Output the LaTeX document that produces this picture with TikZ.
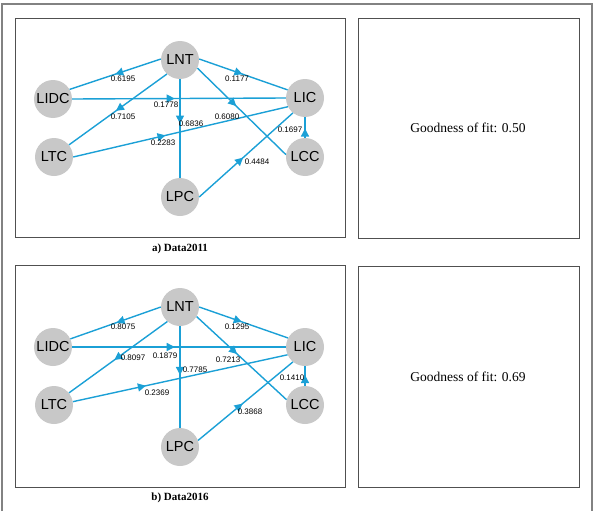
\documentclass[tikz,border=0pt]{standalone}
\usepackage{fontspec}
\setmainfont{Liberation Serif}
\setsansfont{Liberation Sans}
\usetikzlibrary{arrows.meta,decorations.markings}
\definecolor{edgeblue}{RGB}{27,160,214}
\definecolor{nodegray}{RGB}{200,200,200}
\definecolor{framedark}{RGB}{80,80,80}
\definecolor{frameout}{RGB}{130,130,130}
\begin{document}
\begin{tikzpicture}[x=1pt,y=-1pt,
  vnode/.style={circle,fill=nodegray,minimum size=38pt,inner sep=0pt,
    font=\sffamily\fontsize{14.5}{14.5}\selectfont},
  wt/.style={font=\sffamily\fontsize{8}{8}\selectfont,inner sep=0pt},
  edge/.style={draw=edgeblue,color=edgeblue,line width=1.4pt},
  midarrow/.style={postaction={decorate,decoration={markings,
    mark=at position #1 with {\arrow{Triangle[length=8pt,width=8pt]}}}}},
  panelframe/.style={draw=framedark,line width=0.9pt},
  caption/.style={font=\bfseries\fontsize{11}{11}\selectfont,inner sep=0pt},
  fitlabel/.style={font=\fontsize{13.5}{13.5}\selectfont,inner sep=0pt}
]
\useasboundingbox (0,0) rectangle (596,511);
% outer frame
\draw[draw=frameout,line width=1.2pt] (2,511) -- (2,4) -- (592,4) -- (592,511);

% ---------- panel a ----------
\draw[panelframe] (15,18) rectangle (345,237);
\draw[panelframe] (358,18) rectangle (579,238);
\node[fitlabel] (fitA) at (468,128) {Goodness of fit: 0.50};
\node[caption] (capA) at (180,249) {a) Data2011};

\node[vnode] (aLNT) at (180,60) {LNT};
\node[vnode] (aLIDC) at (53,99) {LIDC};
\node[vnode] (aLIC) at (305,98) {LIC};
\node[vnode] (aLTC) at (54,157) {LTC};
\node[vnode] (aLCC) at (305,157) {LCC};
\node[vnode] (aLPC) at (180,197) {LPC};

\draw[edge,midarrow=0.5] (aLNT.177) -- (aLIDC.30);
\draw[edge,midarrow=0.49] (aLNT.3) -- (aLIC.155);
\draw[edge,midarrow=0.48] (aLIDC.0) -- (aLIC.180);
\draw[edge,midarrow=0.52] (aLNT.227) -- (aLTC.39);
\draw[edge,midarrow=0.45] (aLNT) -- (aLPC);
\draw[edge,midarrow=0.44] (aLNT.335) -- (aLCC.173);
\draw[edge,midarrow=0.43] (aLTC.0) -- (aLIC.207);
\draw[edge,midarrow=0.47] (aLPC.0) -- (aLIC.231);
\draw[edge,midarrow=0.45] (aLCC) -- (aLIC);

\node[wt] (wa1) at (123,79) {0.6195};
\node[wt] (wa2) at (237,79) {0.1177};
\node[wt] (wa3) at (166,105) {0.1778};
\node[wt] (wa4) at (123,117) {0.7105};
\node[wt] (wa5) at (191,124) {0.6836};
\node[wt] (wa6) at (227,117) {0.6080};
\node[wt] (wa7) at (163,143) {0.2283};
\node[wt] (wa8) at (257,162) {0.4484};
\node[wt] (wa9) at (290,130) {0.1697};

% ---------- panel b ----------
\draw[panelframe] (15,265) rectangle (345,487);
\draw[panelframe] (358,266) rectangle (579,487);
\node[fitlabel] (fitB) at (468,377) {Goodness of fit: 0.69};
\node[caption] (capB) at (180,498) {b) Data2016};

\node[vnode] (bLNT) at (180,307) {LNT};
\node[vnode] (bLIDC) at (53,347) {LIDC};
\node[vnode] (bLIC) at (305,347) {LIC};
\node[vnode] (bLTC) at (54,405) {LTC};
\node[vnode] (bLCC) at (305,405) {LCC};
\node[vnode] (bLPC) at (180,447) {LPC};

\draw[edge,midarrow=0.49] (bLNT.180) -- (bLIDC.25);
\draw[edge,midarrow=0.48] (bLNT.0) -- (bLIC.152);
\draw[edge,midarrow=0.48] (bLIDC.0) -- (bLIC.180);
\draw[edge,midarrow=0.54] (bLNT.229) -- (bLTC.39);
\draw[edge,midarrow=0.48] (bLNT) -- (bLPC);
\draw[edge,midarrow=0.45] (bLNT.330) -- (bLCC.164);
\draw[edge,midarrow=0.34] (bLTC.10) -- (bLIC.204);
\draw[edge,midarrow=0.47] (bLPC.20) -- (bLIC.231);
\draw[edge,midarrow=0.55] (bLCC) -- (bLIC);

\node[wt] (wb1) at (123,327) {0.8075};
\node[wt] (wb2) at (237,327) {0.1295};
\node[wt] (wb3) at (165,356) {0.1879};
\node[wt] (wb4) at (133,358) {0.8097};
\node[wt] (wb5) at (195,370) {0.7785};
\node[wt] (wb6) at (228,360) {0.7213};
\node[wt] (wb7) at (157,393) {0.2369};
\node[wt] (wb8) at (250,412) {0.3868};
\node[wt] (wb9) at (292,378) {0.1410};
\end{tikzpicture}
\end{document}
